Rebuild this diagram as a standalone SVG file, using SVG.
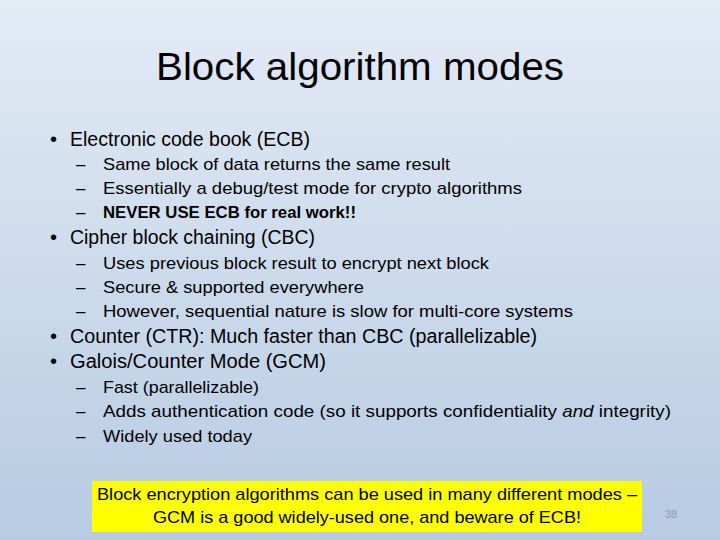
<svg xmlns="http://www.w3.org/2000/svg" width="720" height="540" viewBox="0 0 720 540">
<defs><linearGradient id="bg" x1="0" y1="0" x2="0" y2="1"><stop offset="0" stop-color="#e3ebf5"/><stop offset="1" stop-color="#b7cbe3"/></linearGradient></defs>
<style>
text{font-family:"Liberation Sans","Noto Sans",sans-serif;fill:#000}
.b{font-size:20px}.s{font-size:17px}.d{font-size:17px}
</style>
<rect width="720" height="540" fill="url(#bg)"/>
<text x="360" y="80" text-anchor="middle" font-size="38" textLength="408" lengthAdjust="spacingAndGlyphs">Block algorithm modes</text>
<g class="b">
<text x="50" y="146">•</text><text x="70" y="146" textLength="240" lengthAdjust="spacingAndGlyphs">Electronic code book (ECB)</text>
<text x="50" y="244">•</text><text x="70" y="244" textLength="245" lengthAdjust="spacingAndGlyphs">Cipher block chaining (CBC)</text>
<text x="50" y="343">•</text><text x="70" y="343" textLength="467" lengthAdjust="spacingAndGlyphs">Counter (CTR): Much faster than CBC (parallelizable)</text>
<text x="50" y="368">•</text><text x="70" y="368" textLength="256" lengthAdjust="spacingAndGlyphs">Galois/Counter Mode (GCM)</text>
</g>
<g class="s">
<text x="76" y="170">–</text><text x="103" y="170" textLength="347" lengthAdjust="spacingAndGlyphs">Same block of data returns the same result</text>
<text x="76" y="194">–</text><text x="103" y="194" textLength="419" lengthAdjust="spacingAndGlyphs">Essentially a debug/test mode for crypto algorithms</text>
<text x="76" y="218">–</text><text x="103" y="218" font-weight="bold" textLength="253" lengthAdjust="spacingAndGlyphs">NEVER USE ECB for real work!!</text>
<text x="76" y="269">–</text><text x="103" y="269" textLength="386" lengthAdjust="spacingAndGlyphs">Uses previous block result to encrypt next block</text>
<text x="76" y="293">–</text><text x="103" y="293" textLength="261" lengthAdjust="spacingAndGlyphs">Secure &amp; supported everywhere</text>
<text x="76" y="317">–</text><text x="103" y="317" textLength="470" lengthAdjust="spacingAndGlyphs">However, sequential nature is slow for multi-core systems</text>
<text x="76" y="393">–</text><text x="103" y="393" textLength="156" lengthAdjust="spacingAndGlyphs">Fast (parallelizable)</text>
<text x="76" y="417">–</text><text x="103" y="417" textLength="568" lengthAdjust="spacingAndGlyphs">Adds authentication  code (so it supports confidentiality <tspan font-style="italic">and</tspan> integrity)</text>
<text x="76" y="442">–</text><text x="103" y="442" textLength="149" lengthAdjust="spacingAndGlyphs">Widely used today</text>
</g>
<g id="note">
<rect x="92" y="481" width="550" height="51" fill="#ffff00"/>
<text x="367" y="500" text-anchor="middle" font-size="17" textLength="540" lengthAdjust="spacingAndGlyphs">Block encryption algorithms can be used in many different modes –</text>
<text x="367" y="523" text-anchor="middle" font-size="17" textLength="428" lengthAdjust="spacingAndGlyphs">GCM is a good widely-used one, and beware of ECB!</text>
</g>
<text x="671" y="518" text-anchor="middle" font-size="11" style="fill:#8a9bb0">38</text>
</svg>
